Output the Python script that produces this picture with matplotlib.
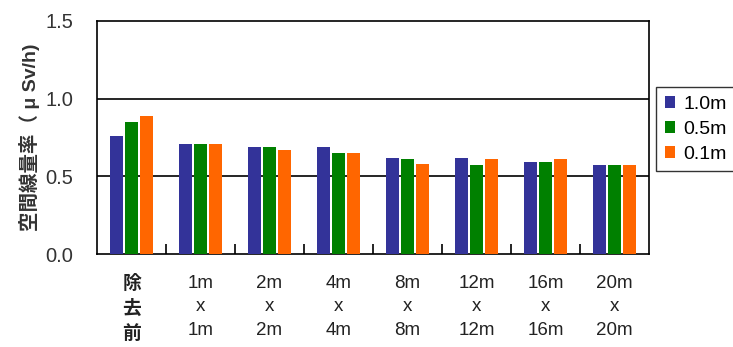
import matplotlib
matplotlib.use('Agg')
import matplotlib.pyplot as plt
import numpy as np

plt.rcParams['font.family'] = ['Liberation Sans', 'Noto Sans CJK JP', 'DejaVu Sans']

# air dose rate at three heights for each decontamination grid size
groups = ['除\n去\n前', '1m\nx\n1m', '2m\nx\n2m', '4m\nx\n4m', '8m\nx\n8m',
          '12m\nx\n12m', '16m\nx\n16m', '20m\nx\n20m']
h_1_0 = [0.76, 0.71, 0.69, 0.69, 0.62, 0.62, 0.59, 0.57]
h_0_5 = [0.85, 0.71, 0.69, 0.65, 0.61, 0.57, 0.59, 0.57]
h_0_1 = [0.89, 0.71, 0.67, 0.65, 0.58, 0.61, 0.61, 0.57]
series = [('1.0m', h_1_0, '#333399'), ('0.5m', h_0_5, '#008000'), ('0.1m', h_0_1, '#ff6600')]

fig = plt.figure(figsize=(7.33, 3.47), dpi=100)
ax = fig.add_axes([97/733, 1 - 254/347, 552/733, 233/347])

x = np.arange(len(groups))
w = 0.2
step = 0.217
for i, (name, vals, col) in enumerate(series):
    ax.bar(x + (i - 1) * step, vals, w, color=col, label=name, zorder=3)

for yv in (0.5, 1.0):
    ax.axhline(yv, color='black', lw=1.2, zorder=1)

ax.set_xlim(-0.5, len(groups) - 0.5)
ax.set_ylim(0, 1.5)
ax.set_yticks([0.0, 0.5, 1.0, 1.5])
ax.set_yticklabels(['0.0', '0.5', '1.0', '1.5'], fontsize=14.5, color='#333333')
ax.tick_params(axis='y', length=0, pad=17)

# separators between groups on the bottom axis, labels centred under each group
ax.set_xticks(np.arange(len(groups) - 1) + 0.5)
ax.set_xticklabels([])
ax.tick_params(axis='x', which='major', direction='in', length=7, width=1.2)
ax.set_xticks(x, minor=True)
xlabels = ax.set_xticklabels(groups, minor=True, fontsize=13.5, color='#222222', linespacing=1.5)
xlabels[0].set_fontweight('bold')
ax.tick_params(axis='x', which='minor', length=0, pad=15)

for s in ax.spines.values():
    s.set_linewidth(1.2)

ax.set_ylabel('空間線量率（ μ Sv/h)', fontsize=14, fontweight='bold', color='#333333', labelpad=4)

leg = ax.legend(loc='upper left', bbox_to_anchor=(1.0127, 0.715), frameon=True,
                fancybox=False, edgecolor='black', fontsize=14,
                handlelength=0.55, handleheight=0.55, handletextpad=0.4,
                borderpad=0.45, labelspacing=0.4, borderaxespad=0)
leg.get_frame().set_linewidth(1.0)

fig.savefig('out.png', dpi=100)
